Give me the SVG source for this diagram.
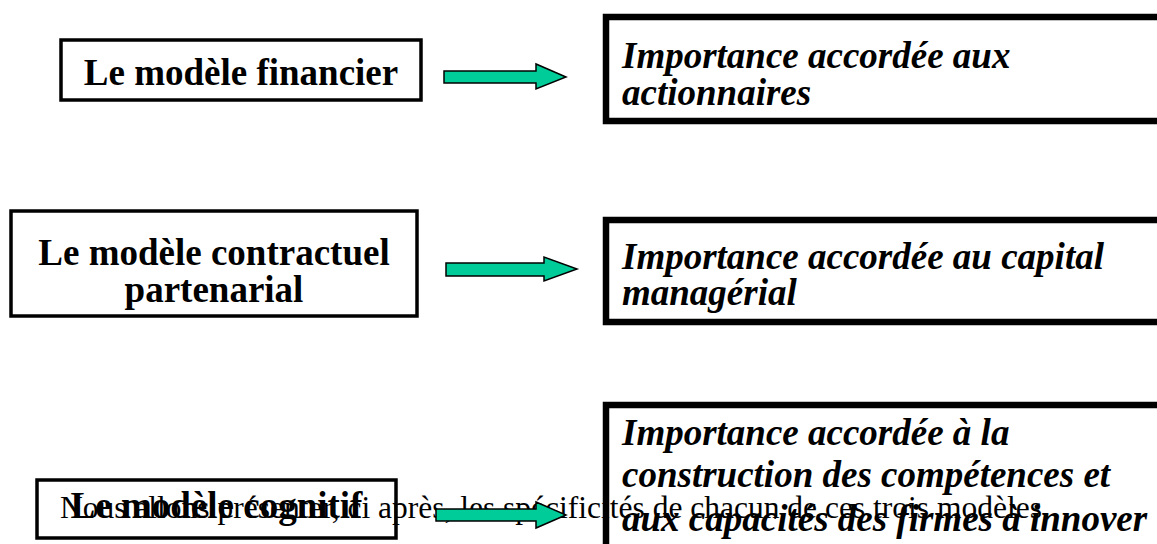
<svg xmlns="http://www.w3.org/2000/svg" width="1157" height="544" viewBox="0 0 1157 544">
<style>
.lbox{fill:#fff;stroke:#000;stroke-width:3.5}
.rbox{fill:#fff;stroke:#000;stroke-width:6.5}
.lt{font-family:"Liberation Serif","Times New Roman",serif;font-weight:bold;font-size:37px;fill:#000;text-anchor:middle}
.rt{font-family:"Liberation Serif","Times New Roman",serif;font-weight:bold;font-style:italic;font-size:37px;fill:#000}
.foot{font-family:"Liberation Serif","Times New Roman",serif;font-size:31.5px;fill:#000}
.arr{fill:#00cc99;stroke:#000;stroke-width:1.5;stroke-linejoin:miter}
</style>
<rect width="1157" height="544" fill="#fff"/>
<g id="n-financier">
<rect class="lbox" x="61" y="40" width="360" height="60"/>
<text class="lt" x="241" y="85">Le modèle financier</text>
</g>
<g id="n-actionnaires">
<rect class="rbox" x="606" y="17" width="570" height="104"/>
<text class="rt" x="622" y="68">Importance accordée aux</text>
<text class="rt" x="622" y="105">actionnaires</text>
</g>
<g id="n-contractuel">
<rect class="lbox" x="11" y="211" width="406" height="105"/>
<text class="lt" x="214" y="265">Le modèle contractuel</text>
<text class="lt" x="214" y="302">partenarial</text>
</g>
<g id="n-managerial">
<rect class="rbox" x="606" y="220" width="570" height="102"/>
<text class="rt" x="622" y="269">Importance accordée au capital</text>
<text class="rt" x="622" y="305">managérial</text>
</g>
<g id="n-cognitif">
<rect class="lbox" x="37" y="480" width="359" height="58"/>
<text class="lt" x="216.5" y="518">Le modèle cognitif</text>
</g>
<g id="n-competences">
<rect class="rbox" x="606" y="405" width="570" height="160"/>
<text class="rt" x="622" y="445">Importance accordée à la</text>
<text class="rt" x="622" y="487">construction des compétences et</text>
<text class="rt" x="622" y="531">aux capacités des firmes à innover</text>
</g>
<text class="foot" x="60" y="518">Nous allons présenter, ci après, les spécificités de chacun de ces trois modèles</text>
<g id="connectors">
<polygon class="arr" points="444,71 536,71 536,64 566,77 536,89 536,83 444,83"/>
<polygon class="arr" points="446,263 544,263 544,257 577,269 544,281 544,276 446,276"/>
<polygon class="arr" points="436,509 536,509 536,502 566,515 536,528 536,521 436,521"/>
</g>
</svg>
